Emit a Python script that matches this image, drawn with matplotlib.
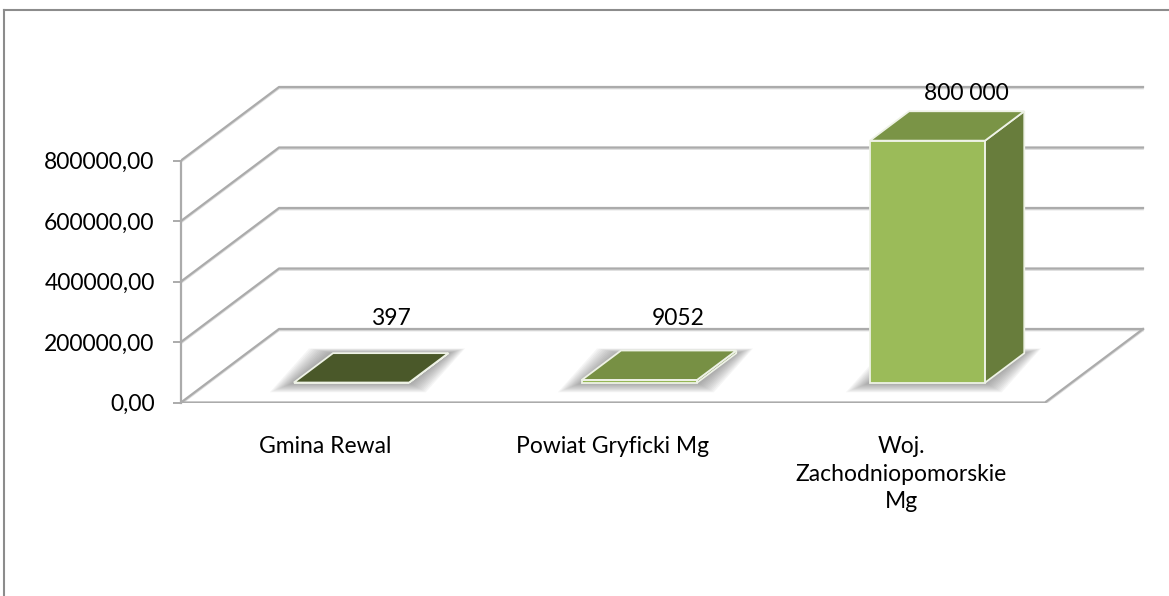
import matplotlib
matplotlib.use('Agg')
import matplotlib.pyplot as plt
from matplotlib.patches import Polygon
from matplotlib.lines import Line2D
import matplotlib.colors as mcolors
import matplotlib.transforms as mtransforms

# ---------------- data ----------------
categories = ['Gmina Rewal', 'Powiat Gryficki Mg', 'Woj.\nZachodniopomorskie\nMg']
values = [397, 9052, 800000]
value_labels = ['397', '9052', '800 000']
y_ticks = [0, 200000, 400000, 600000, 800000]
bar_colors = ['#5E7034', '#96B656', '#9BBB59']

plt.rcParams['font.family'] = ['Lato', 'DejaVu Sans']

W, H = 1169, 596
fig = plt.figure(figsize=(W / 100, H / 100), dpi=100)
fig.patch.set_facecolor('white')

# layout (pixels)
ax_left_px, ax_right_px = 181, 1165
ax_bottom_px, ax_top_px = 402.5, 40
cat_px = 288.0                 # pixels per category
val_px = 242.0 / 800000        # pixels per value unit

ax = fig.add_axes([ax_left_px / W, (H - ax_bottom_px) / H,
                   (ax_right_px - ax_left_px) / W, (ax_bottom_px - ax_top_px) / H])
ax.set_xlim(-0.5, -0.5 + (ax_right_px - ax_left_px) / cat_px)
ax.set_ylim(0, (ax_bottom_px - ax_top_px) / val_px)
ax.patch.set_alpha(0)

DX = 98.0 / cat_px       # depth offset, category units
DV = 73.5 / val_px       # depth offset, value units
n = len(categories)
x_front_end = n - 0.5


def P(x, v, d):
    return (x + d * DX, v + d * DV)


grid_col = '#ABABAB'
drop = ax.transData + mtransforms.ScaledTranslation(0, -1.5 / 100, fig.dpi_scale_trans)
# walls / gridlines
for t in y_ticks:
    xs, ys = zip(P(-0.5, t, 0), P(-0.5, t, 1), P(x_front_end, t, 1))
    ax.plot(xs, ys, color='#DADADA', lw=1.2, zorder=1, transform=drop)
    ax.plot(xs, ys, color=grid_col, lw=1.6, zorder=1.1)
# floor
xs, ys = zip(P(-0.5, 0, 0), P(x_front_end, 0, 0), P(x_front_end, 0, 1))
ax.plot(xs, ys, color='#DADADA', lw=1.2, zorder=1, transform=drop)
ax.plot(xs, ys, color=grid_col, lw=1.6, zorder=1.1)

# bars
half_w = 0.2
f0, f1 = 0.27, 0.67


def shade(c, k):
    r, g, b = mcolors.to_rgb(c)
    return (r * k, g * k, b * k)


for i, (v, c) in enumerate(zip(values, bar_colors)):
    x0, x1 = i - half_w, i + half_w
    # soft shadow on the floor
    for k in range(12, 0, -1):
        ex = k * 2.0 / cat_px
        ey = k * 0.8 / val_px
        sh = [P(x0 - ex, -ey, f0), P(x1 + ex * 0.7, -ey, f0),
              P(x1 + ex * 0.7, ey * 0.5, f1), P(x0 - ex, ey * 0.5, f1)]
        ax.add_patch(Polygon(sh, closed=True, facecolor='#606060', edgecolor='none',
                             alpha=0.06, zorder=2))
    front = [P(x0, 0, f0), P(x1, 0, f0), P(x1, v, f0), P(x0, v, f0)]
    side = [P(x1, 0, f0), P(x1, 0, f1), P(x1, v, f1), P(x1, v, f0)]
    top = [P(x0, v, f0), P(x1, v, f0), P(x1, v, f1), P(x0, v, f1)]
    edge = '#EEF2E6'
    ax.add_patch(Polygon(front, closed=True, facecolor=c, edgecolor=edge, lw=1.3, zorder=3))
    ax.add_patch(Polygon(side, closed=True, facecolor=shade(c, 0.67), edgecolor=edge, lw=1.3, zorder=3))
    ax.add_patch(Polygon(top, closed=True, facecolor=shade(c, 0.79), edgecolor=edge, lw=1.3, zorder=4))
    # data label
    lx, ly = P(i, v, f1)
    ly = max(ly + 7 / val_px, DV)
    ax.text(lx, ly, value_labels[i], ha='center', va='bottom', fontsize=16.5,
            color='black', zorder=5)

# axes styling
for s in ['top', 'right', 'bottom']:
    ax.spines[s].set_visible(False)
ax.spines['left'].set_color(grid_col)
ax.spines['left'].set_linewidth(1.6)
ax.spines['left'].set_bounds(0, y_ticks[-1])
ax.set_yticks(y_ticks)
ax.set_yticklabels([f'{t:.2f}'.replace('.', ',') for t in y_ticks], fontsize=16.5)
ax.tick_params(axis='y', direction='out', length=6, width=1.4, color=grid_col, pad=13)
ax.set_xticks(range(n))
ax.set_xticklabels(categories, fontsize=16.5, linespacing=1.4)
ax.tick_params(axis='x', length=0, pad=24)

# outer chart border (left and top edges visible)
fig.add_artist(Line2D([3.5 / W, 3.5 / W], [0, 1 - 9.5 / H], transform=fig.transFigure,
                      color='#8C8C8C', lw=1.5))
fig.add_artist(Line2D([3.5 / W, 1], [1 - 9.5 / H, 1 - 9.5 / H], transform=fig.transFigure,
                      color='#8C8C8C', lw=1.5))

fig.savefig('out.png', dpi=100)
